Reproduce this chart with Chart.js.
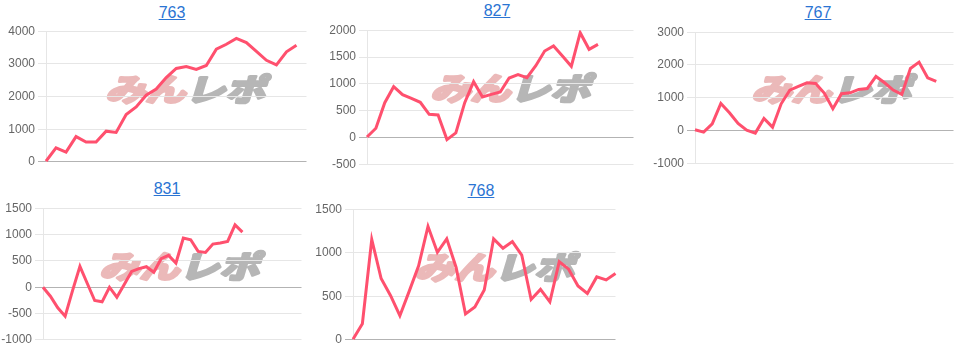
<!DOCTYPE html>
<html>
<head>
<meta charset="utf-8">
<title>みんレポ</title>
<script src="https://cdn.jsdelivr.net/npm/chart.js@4"></script>
<style>
    html, body {
        margin: 0;
        padding: 0;
        background: #fff;
    }
    #page {
        position: relative;
        width: 964px;
        height: 350px;
        overflow: hidden;
    }
    .chart-title {
        position: absolute;
        width: 100px;
        text-align: center;
        font-family: "Liberation Sans", Arial, sans-serif;
        font-size: 16px;
        line-height: 20px;
    }
    .chart-title a {
        color: #2a74d3;
        text-decoration: underline;
    }
    .chart-box {
        position: absolute;
    }
</style>
</head>
<body>
<div id="page"></div>

<script>
// Machine numbers shown as titles
const machines = ['763', '827', '767', '831', '768'];

// Day labels (x categories) per machine
const days763 = ['1','2','3','4','5','6','7','8','9','10','11','12','13','14','15','16','17','18','19','20','21','22','23','24','25','26','27'];
const days827 = ['1','2','3','4','5','6','7','8','9','10','11','12','13','14','15','16','17','18','19','20','21','22','23','24','25','26','27','28','29','30','31'];
const days767 = ['1','2','3','4','5','6','7','8','9','10','11','12','13','14','15','16','17','18','19','20','21','22','23','24','25','26','27','28','29','30','31'];
const days831 = ['1','2','3','4','5','6','7','8','9','10','11','12','13','14','15','16','17','18','19','20','21','22','23','24','25','26','27','28','29','30','31','32','33','34','35','36'];
const days768 = ['1','2','3','4','5','6','7','8','9','10','11','12','13','14','15','16','17','18','19','20','21','22','23','24','25','26','27','28','29'];

// Cumulative difference values
const values763 = [20, 430, 300, 775, 610, 610, 940, 900, 1450, 1680, 2040, 2230, 2580, 2860, 2920, 2830, 2950, 3450, 3600, 3780, 3650, 3380, 3110, 2970, 3370, 3570];
const values827 = [12, 174, 651, 949, 800, 732, 658, 434, 422, -37, 87, 651, 1042, 757, 806, 850, 1110, 1172, 1117, 1340, 1613, 1706, 1520, 1328, 1954, 1644, 1737];
const values767 = [20, -50, 204, 824, 540, 214, 10, -80, 366, 100, 814, 1232, 1343, 1455, 1435, 1140, 662, 1120, 1150, 1252, 1282, 1649, 1455, 1232, 1100, 1893, 2087, 1608, 1496];
const values831 = [0, -170, -390, -550, -66, 397, 70, -252, -277, 0, -189, 50, 300, 354, 390, 285, 542, 605, 460, 932, 900, 680, 661, 819, 838, 869, 1184, 1045];
const values768 = [8, 186, 1152, 704, 510, 278, 560, 850, 1303, 1005, 1160, 831, 298, 379, 572, 1160, 1052, 1129, 974, 464, 580, 437, 897, 812, 619, 534, 723, 688, 762];

// Y axis ranges (min, max, step)
const yMin = [0, -500, -1000, -1000, 0];
const yMax = [4000, 2000, 3000, 1500, 1500];
const yStep = [1000, 500, 1000, 500, 500];

const allDays = [days763, days827, days767, days831, days768];
const allValues = [values763, values827, values767, values831, values768];

// Layout of each panel on the page (wm = logo centre on the page)
const panels = [
    { titleX: 172, titleY: 3,   left: 0,   top: 20.8,  width: 308, height: 151.1, axisW: 46, wm: [189, 88.5] },
    { titleX: 497, titleY: 1,   left: 320, top: 19.5,  width: 315, height: 154.7, axisW: 47, wm: [514, 86.5] },
    { titleX: 818, titleY: 3,   left: 645, top: 21.8,  width: 310, height: 151.4, axisW: 50, wm: [835, 88.5] },
    { titleX: 167, titleY: 179, left: 0,   top: 198.1, width: 303, height: 152.1, axisW: 43, wm: [183, 265.5] },
    { titleX: 481, titleY: 181, left: 315, top: 199.1, width: 302, height: 151.1, axisW: 38, wm: [498, 266.5] }
];

// Draws the "みんレポ" logo behind grid and line
const watermark = {
    id: 'watermark',
    beforeDraw(chart, args, opts) {
        const ctx = chart.ctx;
        ctx.save();
        ctx.translate(opts.x, opts.y);
        ctx.transform(1, 0, -0.3, 1, 0, 0);
        ctx.font = 'bold 31px "Noto Sans CJK JP"';
        ctx.textBaseline = 'middle';
        ctx.lineJoin = 'round';
        const w1 = ctx.measureText('みん').width;
        const w2 = ctx.measureText('レポ').width;
        const total = w1 + w2;
        ctx.scale(160 / total, 1);
        const x0 = -total / 2;
        ctx.lineWidth = 3;
        ctx.fillStyle = ctx.strokeStyle = '#ebb9b9';
        ctx.strokeText('みん', x0, 1);
        ctx.fillText('みん', x0, 1);
        ctx.fillStyle = ctx.strokeStyle = '#b6b6b6';
        ctx.strokeText('レポ', x0 + w1, 1);
        ctx.fillText('レポ', x0 + w1, 1);
        ctx.restore();
    }
};

document.addEventListener('DOMContentLoaded', function() {
    const page = document.getElementById('page');

    machines.forEach(function(name, i) {
        const p = panels[i];

        const title = document.createElement('div');
        title.className = 'chart-title';
        title.style.left = (p.titleX - 50) + 'px';
        title.style.top = p.titleY + 'px';
        title.innerHTML = '<a href="#">' + name + '</a>';
        page.appendChild(title);

        const box = document.createElement('div');
        box.className = 'chart-box';
        box.style.left = p.left + 'px';
        box.style.top = p.top + 'px';
        box.style.width = p.width + 'px';
        box.style.height = p.height + 'px';
        const canvas = document.createElement('canvas');
        box.appendChild(canvas);
        page.appendChild(box);

        new Chart(canvas, {
            type: 'line',
            data: {
                labels: allDays[i],
                datasets: [{
                    label: name,
                    data: allValues[i],
                    borderColor: 'rgb(255, 80, 110)',
                    borderWidth: 3,
                    pointRadius: 0,
                    tension: 0,
                    fill: false
                }]
            },
            plugins: [watermark],
            options: {
                responsive: true,
                maintainAspectRatio: false,
                animation: false,
                layout: { padding: 0 },
                scales: {
                    x: { display: false },
                    y: {
                        min: yMin[i],
                        max: yMax[i],
                        ticks: {
                            stepSize: yStep[i],
                            color: '#666',
                            font: { family: '"Liberation Sans", Arial, sans-serif', size: 12 },
                            callback: function(v) { return String(v); }
                        },
                        grid: {
                            color: function(c) {
                                return c.tick && c.tick.value === 0 ? '#b3b3b3' : '#e6e6e6';
                            },
                            tickLength: 8
                        },
                        border: { color: '#e6e6e6' },
                        afterFit: function(scale) { scale.width = p.axisW; }
                    }
                },
                plugins: {
                    legend: { display: false },
                    tooltip: { enabled: false },
                    watermark: { x: p.wm[0] - p.left, y: p.wm[1] - p.top }
                }
            }
        });
    });
});
</script>
</body>
</html>
